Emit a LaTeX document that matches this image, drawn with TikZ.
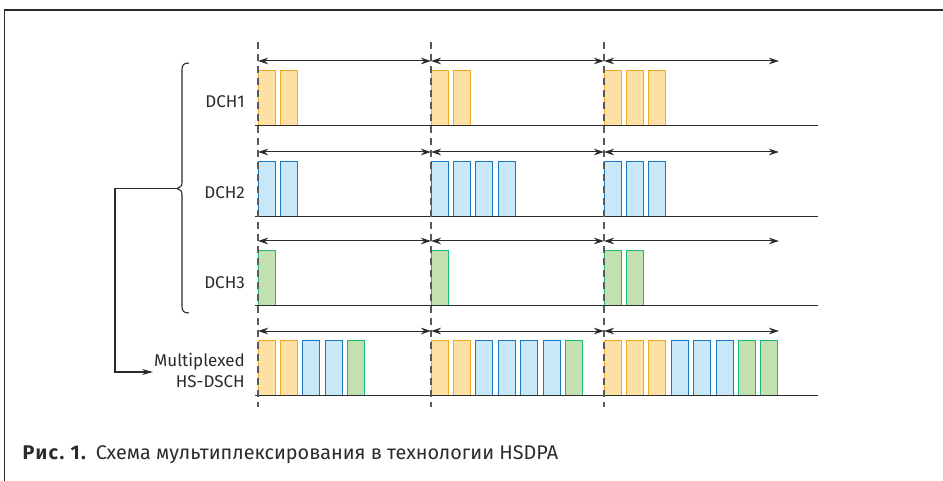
\documentclass[tikz,border=0pt]{standalone}
\usepackage{fontspec}
\setmainfont{Fira Sans}
\usetikzlibrary{arrows.meta}

\definecolor{orgline}{HTML}{F5A623}
\definecolor{orgfill}{HTML}{FDE1A4}
\definecolor{blueline}{HTML}{1A78C2}
\definecolor{bluefill}{HTML}{C8E8F8}
\definecolor{greenline}{HTML}{1DB870}
\definecolor{greenfill}{HTML}{C2E0B0}
\definecolor{inkgray}{HTML}{2B2B2B}

% one slot of a channel: bottom-left corner at the given point
\newcommand\slotrun[4]{% #1 name prefix, #2 baseline y, #3 left x, #4 list of slot styles
  \foreach \c [count=\i from 0] in {#4}{
    \node[slot,\c] (#1-\i) at ({#3+22.4*\i},#2) {};
  }}

\begin{document}
\begin{tikzpicture}[x=1pt,y=-1pt,
  slot/.style={anchor=south west,minimum width=17pt,minimum height=55pt,
               inner sep=0pt,outer sep=0pt,line width=1pt},
  orangeslot/.style={draw=orgline,fill=orgfill},
  blueslot/.style={draw=blueline,fill=bluefill},
  greenslot/.style={draw=greenline,fill=greenfill},
  frameline/.style={draw=inkgray,line width=1.3pt},
  axisline/.style={draw=inkgray,line width=1pt},
  period/.style={draw=inkgray,line width=1pt,
                 {Stealth[length=10pt,width=6.5pt]}-{Stealth[length=10pt,width=6.5pt]}},
  tti/.style={draw=black!65,line width=1.2pt,dash pattern=on 7pt off 5pt},
  label/.style={font=\fontsize{17}{21}\selectfont,text=inkgray,inner sep=0pt},
  bracket/.style={draw=inkgray,line width=1.1pt},
  feed/.style={draw=inkgray,line width=1.1pt,-{Stealth[length=11pt,width=6pt]}}
]
\useasboundingbox (0,0) rectangle (943,481);

% outer frame (top and left edges)
\coordinate (fbl) at (4.5,481);
\coordinate (ftl) at (4.5,10);
\coordinate (ftr) at (943,10);
\draw[frameline] (fbl) -- (ftl) -- (ftr);

% DCH1
\slotrun{d1a}{126}{258}{orangeslot,orangeslot}
\slotrun{d1b}{126}{431}{orangeslot,orangeslot}
\slotrun{d1c}{126}{604}{orangeslot,orangeslot,orangeslot}
% DCH2
\slotrun{d2a}{216.5}{258}{blueslot,blueslot}
\slotrun{d2b}{216.5}{431}{blueslot,blueslot,blueslot,blueslot}
\slotrun{d2c}{216.5}{604}{blueslot,blueslot,blueslot}
% DCH3
\slotrun{d3a}{306}{258}{greenslot}
\slotrun{d3b}{306}{431}{greenslot}
\slotrun{d3c}{306}{604}{greenslot,greenslot}
% multiplexed HS-DSCH
\slotrun{hsa}{395.5}{258}{orangeslot,orangeslot,blueslot,blueslot,greenslot}
\slotrun{hsb}{395.5}{431}{orangeslot,orangeslot,blueslot,blueslot,blueslot,blueslot,greenslot}
\slotrun{hsc}{395.5}{604}{orangeslot,orangeslot,orangeslot,blueslot,blueslot,blueslot,greenslot,greenslot}

% time axes
\foreach \r/\y in {1/126,2/216.5,3/306,4/395.5}{
  \coordinate (ax\r-s) at (255,\y);
  \coordinate (ax\r-e) at (818,\y);
  \draw[axisline] (ax\r-s) -- (ax\r-e);
}

% TTI boundaries
\foreach \k/\x in {0/258,1/431,2/604}{
  \coordinate (tti\k-t) at (\x,42);
  \coordinate (tti\k-b) at (\x,407);
  \draw[tti] (tti\k-t) -- (tti\k-b);
}

% period arrows
\foreach \r/\y in {1/61,2/152,3/241,4/331}{
  \coordinate (p\r-0) at (258,\y);
  \coordinate (p\r-1) at (431,\y);
  \coordinate (p\r-2) at (604,\y);
  \coordinate (p\r-3) at (779,\y);
  \draw[period] (p\r-0) -- (p\r-1);
  \draw[period] (p\r-1) -- (p\r-2);
  \draw[period] (p\r-2) -- (p\r-3);
}

% channel names
\node[label,anchor=east] (n1) at (245,101.5) {DCH1};
\node[label,anchor=east] (n2) at (245,192.5) {DCH2};
\node[label,anchor=east] (n3) at (245,283) {DCH3};
\node[label,anchor=east,align=right] (nhs) at (245,370.5) {Multiplexed\\HS-DSCH};

% curly bracket over the three DCHs
\coordinate (brtop) at (189,63);
\coordinate (brcusp) at (177,188.5);
\coordinate (brbot) at (189,313);
\draw[bracket] (brtop) .. controls (183.5,63) and (182,65) .. (182,70)
  -- (182,181) .. controls (182,186) .. (brcusp)
  .. controls (182,191) .. (182,196)
  -- (182,306) .. controls (182,311) and (183.5,313) .. (brbot);

% feed into the multiplexed channel
\coordinate (elbow) at (115,188.5);
\coordinate (hsin) at (153,372);
\draw[feed] (brcusp) -- (elbow) |- (hsin);

% caption
\node[anchor=base west,inner sep=0pt,text=inkgray,font=\fontsize{19.8}{23}\selectfont] (cap) at (22.5,459)
  {{\bfseries\addfontfeatures{LetterSpace=7}Рис.\ 1.}\hspace{0.15em} Схема мультиплексирования в технологии HSDPA};
\end{tikzpicture}
\end{document}
